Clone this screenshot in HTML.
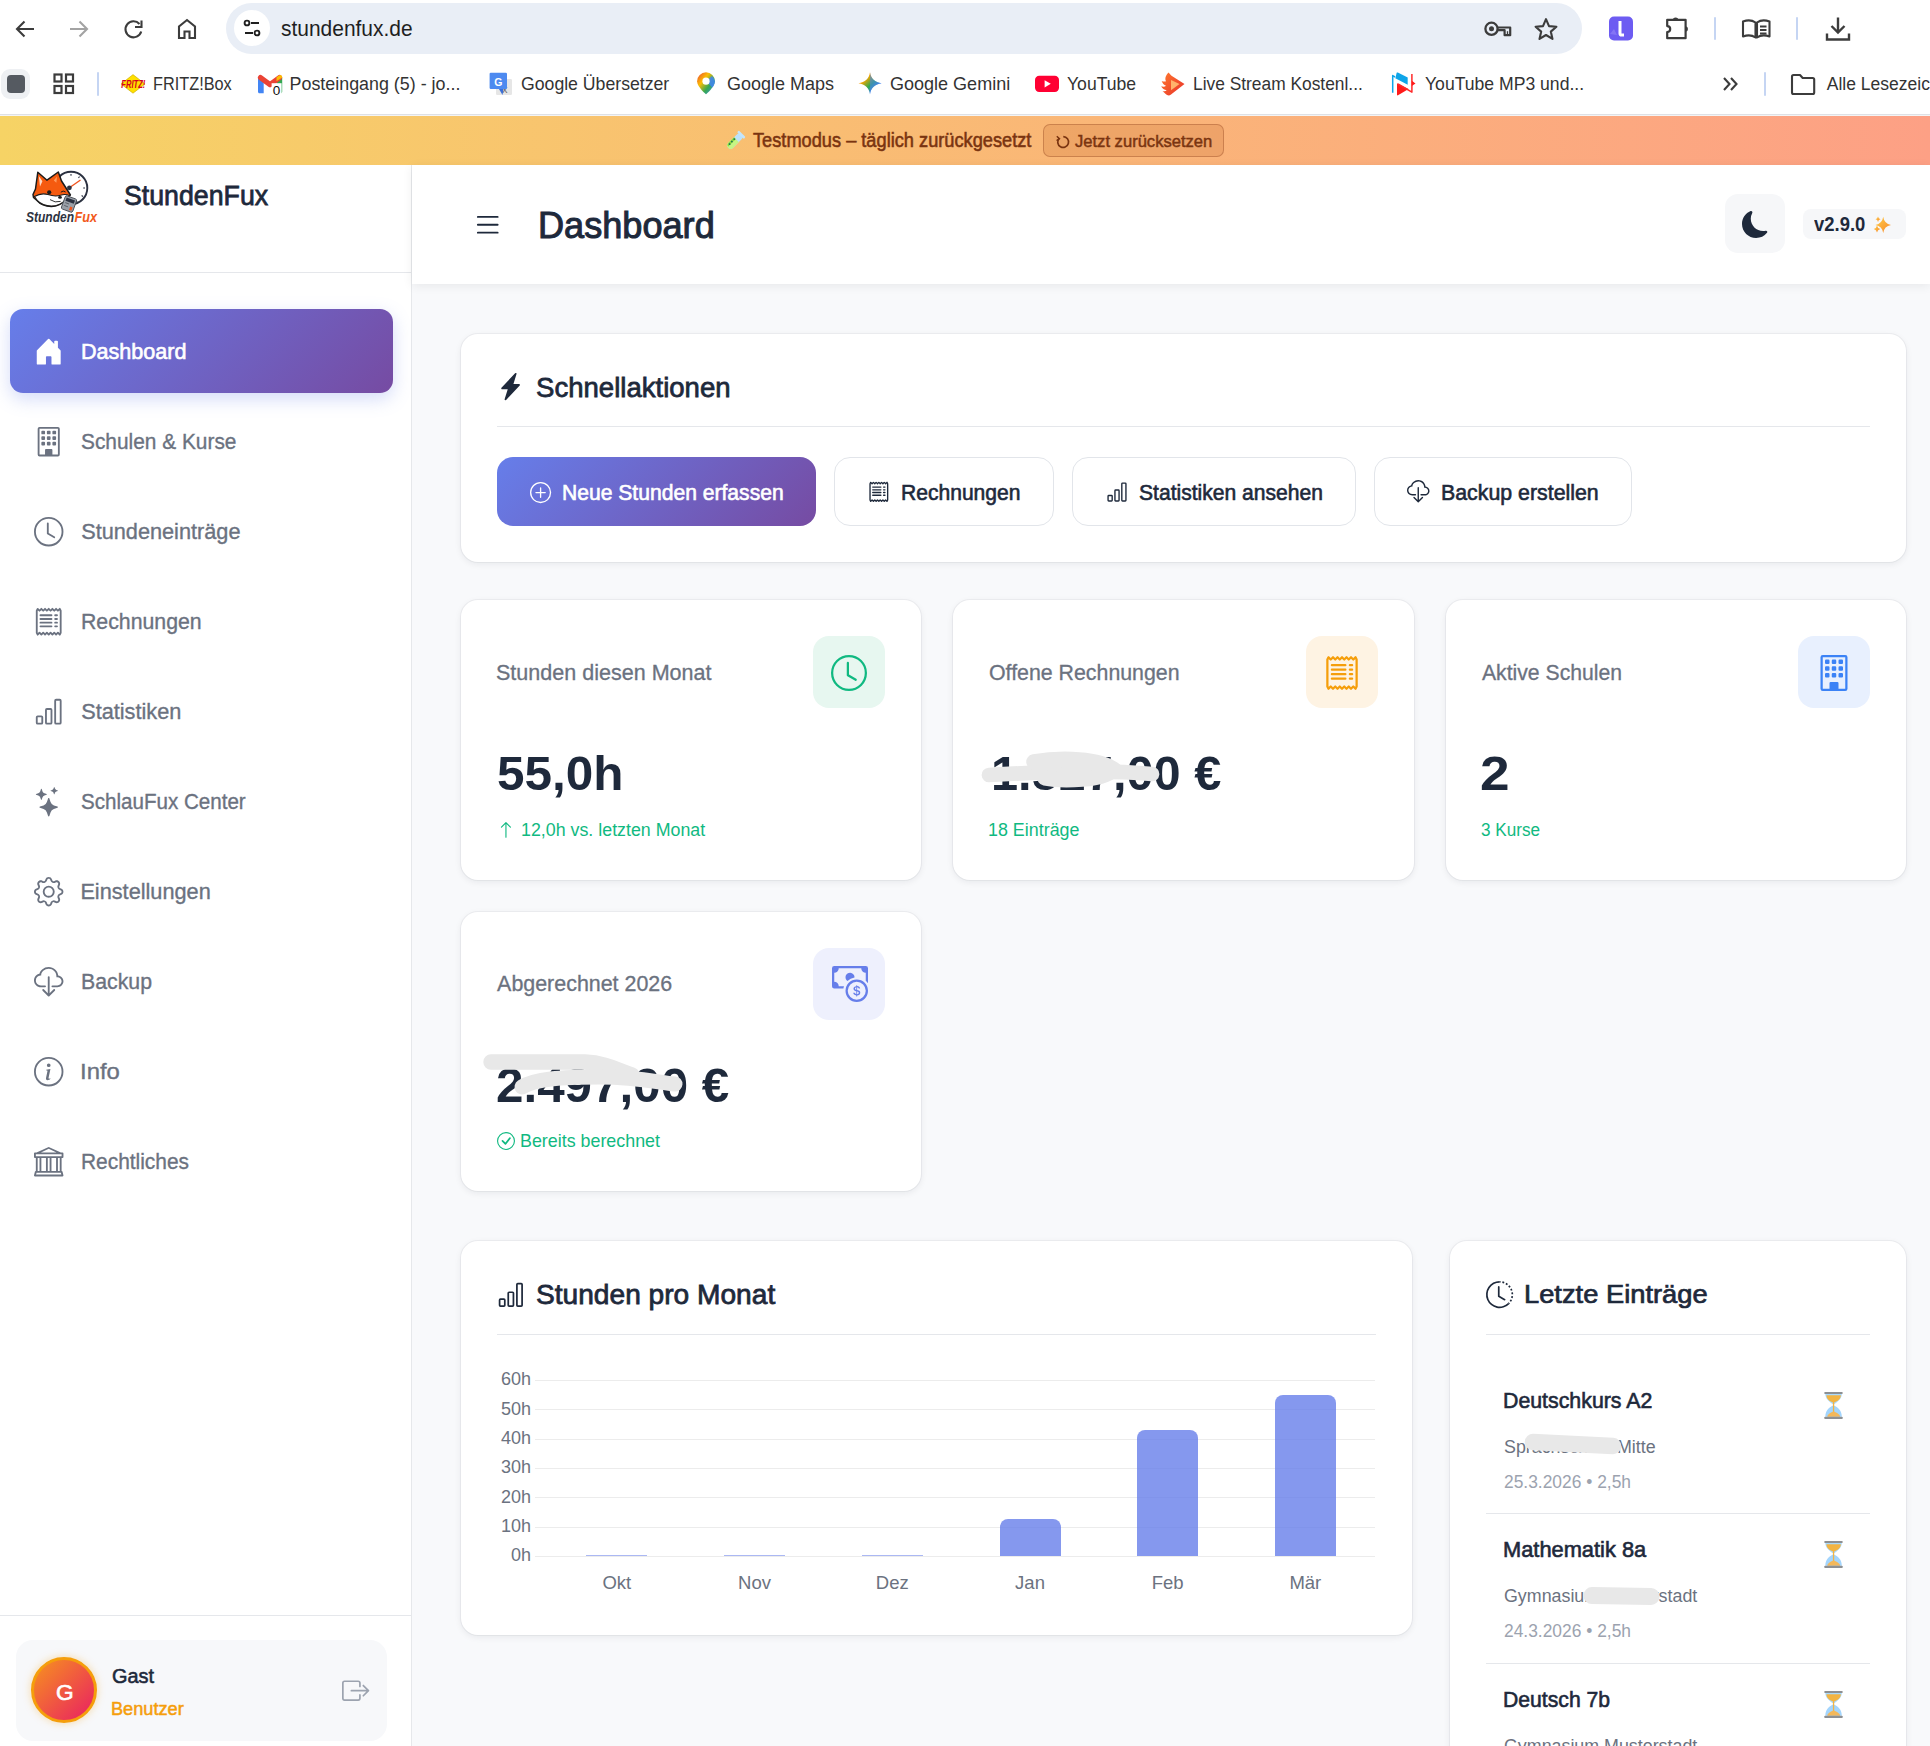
<!DOCTYPE html>
<html><head><meta charset="utf-8"><style>
*{margin:0;padding:0;box-sizing:border-box}
html,body{width:1930px;height:1746px;overflow:hidden;background:#ffffff;font-family:"Liberation Sans",sans-serif}
.a{position:absolute;display:block}
.t{position:absolute;white-space:nowrap;transform-origin:0 0}
svg.a{overflow:visible}
</style></head><body>
<div class="a" style="left:0px;top:0px;width:1930px;height:115px;background:#ffffff;"></div>
<div class="a" style="left:0px;top:114px;width:1930px;height:1px;background:#dfe1e5;"></div>
<svg class="a" style="left:14px;top:18px;" width="24" height="22" viewBox="0 0 24 22"><path d="M20 11H3.5M10.5 3.5L3 11l7.5 7.5" fill="none" stroke="#3c3c3c" stroke-width="2.1"/></svg>
<svg class="a" style="left:68px;top:18px;" width="24" height="22" viewBox="0 0 24 22"><path d="M2 11h16.5M11.5 3.5L19 11l-7.5 7.5" fill="none" stroke="#a3a3a3" stroke-width="2.1"/></svg>
<svg class="a" style="left:122px;top:18px;" width="24" height="22" viewBox="0 0 24 22"><path d="M19.2 13.5A8 8 0 1 1 17.5 6" fill="none" stroke="#3c3c3c" stroke-width="2.1"/><path d="M19.5 2.5v6.5h-6.5" fill="none" stroke="#3c3c3c" stroke-width="2.1"/></svg>
<svg class="a" style="left:176px;top:17px;" width="24" height="24" viewBox="0 0 24 24"><path d="M3 21V9.5L11 3l8 6.5V21h-5.5v-6.5h-5V21z" fill="none" stroke="#3c3c3c" stroke-width="2.1" stroke-linejoin="miter"/></svg>
<div class="a" style="left:226px;top:3px;width:1356px;height:51px;background:#e9eef6;border-radius:26px;"></div>
<div class="a" style="left:234px;top:10px;width:36px;height:36px;background:#ffffff;border-radius:50%;"></div>
<svg class="a" style="left:240px;top:16px;" width="24" height="24" viewBox="0 0 24 24"><circle cx="7" cy="7" r="2.4" fill="none" stroke="#1f1f1f" stroke-width="1.9"/><path d="M11 7h8M5 17h8" stroke="#1f1f1f" stroke-width="1.9"/><circle cx="17" cy="17" r="2.4" fill="none" stroke="#1f1f1f" stroke-width="1.9"/></svg>
<div class="t" style="left:281.4px;top:17.64px;font-size:22.29px;line-height:22.29px;font-weight:400;color:#1f1f1f;transform:scaleX(0.9401);">stundenfux.de</div>
<svg class="a" style="left:1480px;top:16px;" width="36" height="26" viewBox="0 0 36 26"><g transform="translate(-1480,-16)"><circle cx="1491.5" cy="28.8" r="6.1" fill="none" stroke="#3c3c3c" stroke-width="2.3"/><circle cx="1491.5" cy="28.8" r="2.5" fill="#3c3c3c"/><path d="M1497.6 27.5H1510.2V35.2H1504.6V30.2H1497.6" fill="none" stroke="#3c3c3c" stroke-width="2.2" stroke-linejoin="round"/><path d="M1507.5 31.2V34.5" stroke="#3c3c3c" stroke-width="1.3"/></g></svg>
<svg class="a" style="left:1532px;top:16px;" width="28" height="26" viewBox="0 0 28 26"><path d="M14 3.2l3 6.9 7.4.6-5.6 4.9 1.7 7.3L14 19l-6.5 3.9 1.7-7.3-5.6-4.9 7.4-.6z" fill="none" stroke="#3c3c3c" stroke-width="2.1" stroke-linejoin="round"/></svg>
<svg class="a" style="left:1608px;top:16px;" width="26" height="25" viewBox="0 0 26 25"><rect x="1" y="0.5" width="24" height="24" rx="5" fill="#6d5cf2"/><path d="M2 18l4-5 3 6z" fill="#8f7ff7" opacity=".7"/><path d="M12 5v12.5c0 1 .6 1.6 1.6 1.6H16" fill="none" stroke="#fff" stroke-width="3"/></svg>
<svg class="a" style="left:1660px;top:12px;" width="34" height="32" viewBox="0 0 34 32"><g transform="translate(-1660,-12)"><path d="M1667.2 19.8H1685.6V38.2H1667.2V32.1A3 3 0 0 0 1667.2 26.1z" fill="none" stroke="#3c3c3c" stroke-width="2.2" stroke-linejoin="round"/><path d="M1672.8 20.3a2.8 2.8 0 0 1 5.6 0z" fill="#3c3c3c"/><path d="M1685.1 26.2a2.8 2.8 0 0 1 0 5.6z" fill="#3c3c3c"/></g></svg>
<div class="a" style="left:1714px;top:17px;width:2px;height:23px;background:#c5d5f3;border-radius:1px;"></div>
<svg class="a" style="left:1741px;top:17px;" width="32" height="24" viewBox="0 0 32 24"><path d="M2 4.5c4-1.5 9-1.5 12.5 1v15c-3.5-2.5-8.5-2.5-12.5-1zM28.5 4.5c-4-1.5-9-1.5-12.5 1v15c3.5-2.5 8.5-2.5 12.5-1z" fill="none" stroke="#3c3c3c" stroke-width="2.1" stroke-linejoin="round"/><path d="M19 9.5h6.5M19 13h6.5M19 16.5h6.5" stroke="#3c3c3c" stroke-width="1.8"/></svg>
<div class="a" style="left:1796px;top:17px;width:2px;height:23px;background:#c5d5f3;border-radius:1px;"></div>
<svg class="a" style="left:1824px;top:15px;" width="28" height="27" viewBox="0 0 28 27"><path d="M14 2.5v15M7.5 11l6.5 6.5 6.5-6.5M3 18.5v6h22v-6" fill="none" stroke="#3c3c3c" stroke-width="2.4"/></svg>
<div class="a" style="left:1px;top:69px;width:29px;height:30px;background:#eef0f3;border-radius:9px;"></div>
<div class="a" style="left:7px;top:75px;width:18px;height:18px;background:#555a61;border-radius:4px;"></div>
<svg class="a" style="left:52px;top:72px;" width="24" height="24" viewBox="0 0 24 24"><rect x="2.5" y="2.5" width="7" height="7" fill="none" stroke="#3c3c3c" stroke-width="2.2"/><rect x="14" y="2.5" width="7" height="7" fill="none" stroke="#3c3c3c" stroke-width="2.2"/><rect x="2.5" y="14" width="7" height="7" fill="none" stroke="#3c3c3c" stroke-width="2.2"/><rect x="14" y="14" width="7" height="7" fill="none" stroke="#3c3c3c" stroke-width="2.2"/></svg>
<div class="a" style="left:97px;top:72px;width:2px;height:24px;background:#c5d5f3;border-radius:1px;"></div>
<svg class="a" style="left:118px;top:72px;" width="30" height="24" viewBox="0 0 30 24"><g transform="translate(-118,-72)"><path d="M133 74.6L145 84 133 93.2 121 84z" fill="#ffe000" stroke="#c9a600" stroke-width=".6"/><text x="121.3" y="87.8" font-size="10.5" font-weight="700" font-style="italic" font-family="Liberation Sans" fill="#d6001c" textLength="24" lengthAdjust="spacingAndGlyphs">FRITZ!</text></g></svg>
<div class="t" style="left:153.4px;top:75.58px;font-size:17.86px;line-height:17.86px;font-weight:400;color:#333333;transform:scaleX(0.9123);">FRITZ!Box</div>
<svg class="a" style="left:256px;top:72px;" width="28" height="25" viewBox="0 0 28 25"><g transform="translate(-256,-72)"><path d="M258 77.5v14.2c0 .9.6 1.5 1.5 1.5h4.2V81.3z" fill="#4285f4"/><path d="M276.5 81.3v11.9h4.2c.9 0 1.5-.6 1.5-1.5V77.5z" fill="#34a853"/><path d="M260.5 77.6L270 84.7l9.5-7.1" fill="none" stroke="#ea4335" stroke-width="5.2" stroke-linecap="round" stroke-linejoin="round"/><path d="M276.5 81.3l5.7-3.8v-.5a2 2 0 0 0-3.2-1.6l-2.5 1.9z" fill="#fbbc04"/><rect x="271.6" y="83.2" width="10" height="12.5" fill="#fff"/><text x="276.5" y="94.5" font-size="13.5" font-family="Liberation Sans" text-anchor="middle" fill="#111">0</text></g></svg>
<div class="t" style="left:289.6px;top:75.58px;font-size:17.86px;line-height:17.86px;font-weight:400;color:#333333;">Posteingang (5) - jo...</div>
<svg class="a" style="left:487px;top:71px;" width="28" height="27" viewBox="0 0 28 27"><g transform="translate(-487,-71)"><rect x="496" y="79" width="16" height="16" rx="1.2" fill="#e6e6e6"/><text x="504.8" y="92.5" font-size="11" font-family="Liberation Sans" fill="#6b6b6b" text-anchor="middle">x</text><rect x="489.6" y="72.7" width="17.4" height="16.3" rx="1.2" fill="#4d8af0"/><path d="M499 89l3.5 6 1-6z" fill="#3a6fd8"/><text x="498.3" y="85.5" font-size="10.5" font-weight="700" font-family="Liberation Sans" fill="#fff" text-anchor="middle">G</text></g></svg>
<div class="t" style="left:521.1px;top:75.58px;font-size:17.86px;line-height:17.86px;font-weight:400;color:#333333;transform:scaleX(0.9888);">Google Übersetzer</div>
<svg class="a" style="left:695px;top:71px;" width="22" height="25" viewBox="0 0 22 25"><defs><linearGradient id="mp1" x1="0" y1="0" x2="1" y2="1"><stop offset="0" stop-color="#ea4335"/><stop offset=".35" stop-color="#fbbc04"/><stop offset=".65" stop-color="#34a853"/><stop offset="1" stop-color="#4285f4"/></linearGradient></defs><g transform="translate(-695,-71)"><path d="M706 72.3a8.9 8.9 0 0 0-8.9 8.9c0 5.6 8.9 13.1 8.9 13.1s8.9-7.5 8.9-13.1a8.9 8.9 0 0 0-8.9-8.9z" fill="url(#mp1)"/><path d="M712 76a8.9 8.9 0 0 1 2.9 5.2c0 2-1 4.2-2.5 6.3L706 81.5z" fill="#4285f4" opacity=".85"/><circle cx="706" cy="81.2" r="3.6" fill="#fff"/></g></svg>
<div class="t" style="left:726.6px;top:75.58px;font-size:17.86px;line-height:17.86px;font-weight:400;color:#333333;transform:scaleX(1.0073);">Google Maps</div>
<svg class="a" style="left:857px;top:71px;" width="26" height="25" viewBox="0 0 26 25"><defs><linearGradient id="gm1" x1="0" y1="0" x2="1" y2="1"><stop offset="0" stop-color="#f24336"/><stop offset=".3" stop-color="#f6a400"/><stop offset=".55" stop-color="#2fa84f"/><stop offset=".75" stop-color="#3f7ef8"/><stop offset="1" stop-color="#3f7ef8"/></linearGradient></defs><g transform="translate(-857,-71)"><path d="M870 72.3C870.8 78.5 875 82.5 881.6 83.3 875 84.1 870.8 88.1 870 94.3 869.2 88.1 865 84.1 858.5 83.3 865 82.5 869.2 78.5 870 72.3z" fill="url(#gm1)"/><path d="M870 72.3C870.8 78.5 875 82.5 881.6 83.3 875 84.1 870.8 88.1 870 94.3z" fill="#4a83f5" opacity=".55"/></g></svg>
<div class="t" style="left:889.7px;top:75.58px;font-size:17.86px;line-height:17.86px;font-weight:400;color:#333333;transform:scaleX(1.0089);">Google Gemini</div>
<svg class="a" style="left:1033px;top:74px;" width="28" height="20" viewBox="0 0 28 20"><rect x="2" y="1.7" width="24" height="16.2" rx="4.2" fill="#ff0033"/><path d="M11.6 6.2v7.2l6.2-3.6z" fill="#fff"/></svg>
<div class="t" style="left:1067.4px;top:75.58px;font-size:17.86px;line-height:17.86px;font-weight:400;color:#333333;transform:scaleX(0.9851);">YouTube</div>
<svg class="a" style="left:1159px;top:70px;" width="28" height="28" viewBox="0 0 28 28"><defs><linearGradient id="ls1" x1="0" y1="0" x2="1" y2="1"><stop offset="0" stop-color="#ff7a2f"/><stop offset="1" stop-color="#e8302a"/></linearGradient></defs><path d="M9.5 2.5l3 3.3 13 8.3-13.5 10.5c-2 1.8-4 .8-5.3-.5L3.5 21c1.8.5 3.2.2 4.2-.8-2.4-.3-4.6-1.6-5.5-4 2 .8 3.8.5 4.8-.5C5 15 3.3 13.3 2.7 11c1.6.7 3 .8 4.3.2C5.8 9 6.2 6 9.5 2.5z" fill="url(#ls1)"/><path d="M12 10l8.5 4.1-8.5 6.2z" fill="#ffb36b"/></svg>
<div class="t" style="left:1192.6px;top:75.58px;font-size:17.86px;line-height:17.86px;font-weight:400;color:#333333;transform:scaleX(0.9720);">Live Stream Kostenl...</div>
<svg class="a" style="left:1388px;top:70px;" width="30" height="28" viewBox="0 0 30 28"><g transform="translate(-1388,-70)"><path d="M1392.7 92.7V75.6l2.3 1.4" stroke="#0ea5e9" stroke-width="1.5" fill="none" stroke-linejoin="round"/><path d="M1396.6 72.9c.3-.5.8-.6 1.2-.4l9.9 5.1v7.2L1395.3 78.3z" fill="#0ea5e9"/><path d="M1397 83.3v11.4c0 .6.5.8 1 .6l10.6-6.4z" fill="#ff1a1a"/><path d="M1398 84l13.9 8.1V74" stroke="#ff2b2b" stroke-width="1.5" fill="none" stroke-linejoin="round"/><path d="M1411.8 80.8l3.7 2.6-3.7 2.6z" fill="#ff1a1a"/></g></svg>
<div class="t" style="left:1424.6px;top:75.58px;font-size:17.86px;line-height:17.86px;font-weight:400;color:#333333;transform:scaleX(0.9851);">YouTube MP3 und...</div>
<svg class="a" style="left:1721px;top:76px;" width="20" height="16" viewBox="0 0 20 16"><path d="M3 2l5.5 6L3 14M10 2l5.5 6L10 14" fill="none" stroke="#3c3c3c" stroke-width="2.1"/></svg>
<div class="a" style="left:1764px;top:72px;width:2px;height:24px;background:#c5d5f3;border-radius:1px;"></div>
<svg class="a" style="left:1789px;top:72px;" width="28" height="24" viewBox="0 0 28 24"><path d="M3 4.5c0-1 .6-1.5 1.5-1.5h6.5l2.7 3h10c1 0 1.5.5 1.5 1.5v13c0 1-.5 1.5-1.5 1.5H4.5c-1 0-1.5-.5-1.5-1.5z" fill="none" stroke="#3c3c3c" stroke-width="2.1" stroke-linejoin="round"/></svg>
<div class="t" style="left:1826.8px;top:75.89px;font-size:17.50px;line-height:17.50px;font-weight:400;color:#333333;">Alle Lesezeichen</div>
<div class="a" style="left:0px;top:116px;width:1930px;height:49px;background:linear-gradient(90deg,#f6d365 0%,#fda085 100%);"></div>
<div class="a" style="left:0px;top:115px;width:1930px;height:1px;background:#f3f4f6;"></div>
<svg class="a" style="left:722.5px;top:128.5px;" width="24" height="24" viewBox="0 0 24 24"><g transform="rotate(45 12 12)"><rect x="8.6" y="3" width="6.8" height="18.5" rx="3.4" fill="#bde2fb"/><rect x="7.2" y="1.8" width="9.6" height="2.6" rx="1.2" fill="#c4e6fc"/><path d="M8.6 10h6.8v8.1a3.4 3.4 0 0 1-6.8 0z" fill="#c6f584"/><path d="M8.6 10h2.6v11.1a3.4 3.4 0 0 1-2.6-3.3z" fill="#8fdc3e"/><circle cx="10.2" cy="11.2" r=".95" fill="#1d7456"/><circle cx="10.2" cy="14.6" r=".95" fill="#1d7456"/><circle cx="10.4" cy="18" r=".95" fill="#1d7456"/></g></svg>
<div class="t" style="left:752.5px;top:131.33px;font-size:19.57px;line-height:19.57px;font-weight:400;color:#7a3410;transform:scaleX(0.9310);-webkit-text-stroke:0.55px #7a3410;">Testmodus – täglich zurückgesetzt</div>
<div class="a" style="left:1043px;top:124px;width:181px;height:33px;background:rgba(185,95,35,0.19);border:1px solid rgba(124,45,18,0.3);border-radius:7px;box-sizing:border-box;"></div>
<svg class="a" style="left:1055px;top:134px;" width="16" height="16" viewBox="0 0 16 16"><path d="M4.2 4.3A5.4 5.4 0 1 0 8.3 2.6" fill="none" stroke="#7a3410" stroke-width="1.7"/><path d="M1.8 2.2L4.4 4.6 1.6 6.6" fill="none" stroke="#7a3410" stroke-width="1.5"/></svg>
<div class="t" style="left:1075.0px;top:134.43px;font-size:16.86px;line-height:16.86px;font-weight:400;color:#7a3410;transform:scaleX(0.9834);-webkit-text-stroke:0.47px #7a3410;">Jetzt zurücksetzen</div>
<div class="a" style="left:0px;top:165px;width:411px;height:1581px;background:#ffffff;"></div>
<div class="a" style="left:411px;top:165px;width:1px;height:1581px;background:#e6e8eb;"></div>
<div class="a" style="left:0px;top:272px;width:411px;height:1px;background:#e5e7eb;"></div>
<svg class="a" style="left:20px;top:165px" width="80" height="62" viewBox="20 165 80 62"><circle cx="71" cy="188" r="16.3" fill="#fff" stroke="#2b3140" stroke-width="1.9"/><path d="M71 174v1.8M79.5 176.5l-1 1.5M85 188h-1.8M83 196.5l-1.4-1M77 202l-.8-1.4" stroke="#2b3140" stroke-width="1.1"/><path d="M69.4 187.8L80.5 180" stroke="#f0541e" stroke-width="1.4"/><circle cx="69.4" cy="187.8" r="2.4" fill="#2b3140"/><path d="M33 194.5L35.5 189 37.8 172.3 47 180.2 58.3 172 61.5 181 67.3 190 70.4 195 66.5 199Q60 206.5 51.3 206.5 42 206.3 37 200.5L33.5 197.5z" fill="#f55a0f" stroke="#1b1b1b" stroke-width="1.5" stroke-linejoin="round"/><path d="M34.5 196.5Q41 192.5 48 194.5 55 197 60.5 195.2 65.5 193.5 69.2 195.6L66.3 199Q60 206 51.3 206 42.5 205.8 37.2 200.3z" fill="#fff" stroke="#1b1b1b" stroke-width="1.1" stroke-linejoin="round"/><path d="M38.8 176l3.6 5.2-2.4 5.3z" fill="#ffd9c2"/><path d="M57 176.5l-3.2 4 2.6 2.2z" fill="#ff9a5c"/><circle cx="49.2" cy="192.3" r="2.1" fill="#1b1b1b"/><path d="M60.8 192.2Q63.2 190 65.6 192" fill="none" stroke="#1b1b1b" stroke-width="1"/><ellipse cx="60" cy="197.4" rx="1.9" ry="1.3" fill="#1b1b1b"/><path d="M50 199.6Q55 203.2 60.6 201.4" fill="none" stroke="#1b1b1b" stroke-width=".9"/><g transform="rotate(20 69 204)"><rect x="63" y="197" width="12" height="14" rx="1.6" fill="#9aa0a8" stroke="#4a4f57" stroke-width=".9"/><rect x="64.6" y="198.6" width="8.8" height="3.6" fill="#2b3140"/><rect x="71" y="206" width="2.6" height="3.6" fill="#f0541e"/><path d="M65 204h4M65 207h4" stroke="#5c6169" stroke-width=".9"/></g><text x="26" y="221.5" font-family="Liberation Sans" font-weight="700" font-style="italic" font-size="15.5" fill="#2d3342" textLength="48" lengthAdjust="spacingAndGlyphs">Stunden</text><text x="74.6" y="221.5" font-family="Liberation Sans" font-weight="700" font-style="italic" font-size="15.5" fill="#f25a1c" textLength="22.5" lengthAdjust="spacingAndGlyphs">Fux</text></svg>
<div class="t" style="left:123.7px;top:181.78px;font-size:27.43px;line-height:27.43px;font-weight:400;color:#1e293b;transform:scaleX(0.9745);-webkit-text-stroke:0.77px #1e293b;">StundenFux</div>
<div class="a" style="left:10px;top:309px;width:383px;height:84px;background:linear-gradient(135deg,#667eea 0%,#764ba2 100%);border-radius:13px;box-shadow:0 6px 18px rgba(102,126,234,0.28);"></div>
<svg class="a" style="left:34.20px;top:337.00px;" width="29.44" height="29.44" viewBox="0 0 16 16" fill="#ffffff"><path d="M6.5 14.5v-3.505c0-.245.25-.495.5-.495h2c.25 0 .5.25.5.5v3.5a.5.5 0 0 0 .5.5h4a.5.5 0 0 0 .5-.5v-7a.5.5 0 0 0-.146-.354L13 5.793V2.5a.5.5 0 0 0-.5-.5h-1a.5.5 0 0 0-.5.5v1.293L8.354 1.146a.5.5 0 0 0-.708 0l-6 6A.5.5 0 0 0 1.5 7.5v7a.5.5 0 0 0 .5.5h4a.5.5 0 0 0 .5-.5z"/></svg>
<div class="t" style="left:80.6px;top:341.12px;font-size:21.71px;line-height:21.71px;font-weight:400;color:#ffffff;transform:scaleX(0.9937);-webkit-text-stroke:0.61px #ffffff;">Dashboard</div>
<div class="t" style="left:81.2px;top:431.42px;font-size:21.71px;line-height:21.71px;font-weight:400;color:#6b7280;transform:scaleX(0.9614);-webkit-text-stroke:0.35px #6b7280;">Schulen & Kurse</div>
<div class="t" style="left:81.2px;top:521.42px;font-size:21.71px;line-height:21.71px;font-weight:400;color:#6b7280;-webkit-text-stroke:0.35px #6b7280;">Stundeneinträge</div>
<div class="t" style="left:80.5px;top:611.42px;font-size:21.71px;line-height:21.71px;font-weight:400;color:#6b7280;transform:scaleX(0.9807);-webkit-text-stroke:0.35px #6b7280;">Rechnungen</div>
<div class="t" style="left:81.2px;top:701.42px;font-size:21.71px;line-height:21.71px;font-weight:400;color:#6b7280;-webkit-text-stroke:0.35px #6b7280;">Statistiken</div>
<div class="t" style="left:81.2px;top:791.42px;font-size:21.71px;line-height:21.71px;font-weight:400;color:#6b7280;transform:scaleX(0.9480);-webkit-text-stroke:0.35px #6b7280;">SchlauFux Center</div>
<div class="t" style="left:80.4px;top:881.42px;font-size:21.71px;line-height:21.71px;font-weight:400;color:#6b7280;-webkit-text-stroke:0.35px #6b7280;">Einstellungen</div>
<div class="t" style="left:80.5px;top:971.42px;font-size:21.71px;line-height:21.71px;font-weight:400;color:#6b7280;transform:scaleX(0.9805);-webkit-text-stroke:0.35px #6b7280;">Backup</div>
<div class="t" style="left:80.0px;top:1061.42px;font-size:21.71px;line-height:21.71px;font-weight:400;color:#6b7280;transform:scaleX(1.0996);-webkit-text-stroke:0.35px #6b7280;">Info</div>
<div class="t" style="left:80.5px;top:1151.42px;font-size:21.71px;line-height:21.71px;font-weight:400;color:#6b7280;transform:scaleX(0.9625);-webkit-text-stroke:0.35px #6b7280;">Rechtliches</div>
<svg class="a" style="left:34.20px;top:427.28px;" width="29.44" height="29.44" viewBox="0 0 16 16" fill="#6b7280"><path d="M4 2.5a.5.5 0 0 1 .5-.5h1a.5.5 0 0 1 .5.5v1a.5.5 0 0 1-.5.5h-1a.5.5 0 0 1-.5-.5v-1Zm3 0a.5.5 0 0 1 .5-.5h1a.5.5 0 0 1 .5.5v1a.5.5 0 0 1-.5.5h-1a.5.5 0 0 1-.5-.5v-1Zm3.5-.5a.5.5 0 0 0-.5.5v1a.5.5 0 0 0 .5.5h1a.5.5 0 0 0 .5-.5v-1a.5.5 0 0 0-.5-.5h-1ZM4 5.5a.5.5 0 0 1 .5-.5h1a.5.5 0 0 1 .5.5v1a.5.5 0 0 1-.5.5h-1a.5.5 0 0 1-.5-.5v-1ZM7.5 5a.5.5 0 0 0-.5.5v1a.5.5 0 0 0 .5.5h1a.5.5 0 0 0 .5-.5v-1a.5.5 0 0 0-.5-.5h-1Zm2.5.5a.5.5 0 0 1 .5-.5h1a.5.5 0 0 1 .5.5v1a.5.5 0 0 1-.5.5h-1a.5.5 0 0 1-.5-.5v-1ZM4.5 8a.5.5 0 0 0-.5.5v1a.5.5 0 0 0 .5.5h1a.5.5 0 0 0 .5-.5v-1a.5.5 0 0 0-.5-.5h-1Zm2.5.5a.5.5 0 0 1 .5-.5h1a.5.5 0 0 1 .5.5v1a.5.5 0 0 1-.5.5h-1a.5.5 0 0 1-.5-.5v-1Zm3.5-.5a.5.5 0 0 0-.5.5v1a.5.5 0 0 0 .5.5h1a.5.5 0 0 0 .5-.5v-1a.5.5 0 0 0-.5-.5h-1Z"/><path d="M2 1a1 1 0 0 1 1-1h10a1 1 0 0 1 1 1v14a1 1 0 0 1-1 1H3a1 1 0 0 1-1-1V1Zm11 0H3v14h3v-2.5a.5.5 0 0 1 .5-.5h3a.5.5 0 0 1 .5.5V15h3V1Z"/></svg>
<svg class="a" style="left:34.20px;top:517.28px;" width="29.44" height="29.44" viewBox="0 0 16 16" fill="#6b7280"><path d="M8 3.5a.5.5 0 0 0-1 0V9a.5.5 0 0 0 .252.434l3.5 2a.5.5 0 0 0 .496-.868L8 8.71V3.5z"/><path d="M8 16A8 8 0 1 0 8 0a8 8 0 0 0 0 16zm7-8A7 7 0 1 1 1 8a7 7 0 0 1 14 0z"/></svg>
<svg class="a" style="left:34.20px;top:607.28px;" width="29.44" height="29.44" viewBox="0 0 16 16" fill="#6b7280"><path d="M1.92.506a.5.5 0 0 1 .434.14L3 1.293l.646-.647a.5.5 0 0 1 .708 0L5 1.293l.646-.647a.5.5 0 0 1 .708 0L7 1.293l.646-.647a.5.5 0 0 1 .708 0L9 1.293l.646-.647a.5.5 0 0 1 .708 0L11 1.293l.646-.647a.5.5 0 0 1 .708 0L13 1.293l.646-.647a.5.5 0 0 1 .801.13l.5 1A.5.5 0 0 1 15 2v12a.5.5 0 0 1-.053.224l-.5 1a.5.5 0 0 1-.8.13L13 14.707l-.646.647a.5.5 0 0 1-.708 0L11 14.707l-.646.647a.5.5 0 0 1-.708 0L9 14.707l-.646.647a.5.5 0 0 1-.708 0L7 14.707l-.646.647a.5.5 0 0 1-.708 0L5 14.707l-.646.647a.5.5 0 0 1-.708 0L3 14.707l-.646.647a.5.5 0 0 1-.801-.13l-.5-1A.5.5 0 0 1 1 14V2a.5.5 0 0 1 .053-.224l.5-1a.5.5 0 0 1 .367-.27zm.217 1.338L2 2.118v11.764l.137.274.51-.51a.5.5 0 0 1 .707 0l.646.647.646-.646a.5.5 0 0 1 .708 0l.646.646.646-.646a.5.5 0 0 1 .708 0l.646.646.646-.646a.5.5 0 0 1 .708 0l.646.646.646-.646a.5.5 0 0 1 .708 0l.646.646.646-.646a.5.5 0 0 1 .708 0l.509.509.137-.274V2.118l-.137-.274-.51.51a.5.5 0 0 1-.707 0L12 1.707l-.646.647a.5.5 0 0 1-.708 0L10 1.707l-.646.647a.5.5 0 0 1-.708 0L8 1.707l-.646.647a.5.5 0 0 1-.708 0L6 1.707l-.646.647a.5.5 0 0 1-.708 0L4 1.707l-.646.647a.5.5 0 0 1-.708 0l-.509-.51z"/><path d="M3 4.5a.5.5 0 0 1 .5-.5h6a.5.5 0 1 1 0 1h-6a.5.5 0 0 1-.5-.5zm0 2a.5.5 0 0 1 .5-.5h6a.5.5 0 1 1 0 1h-6a.5.5 0 0 1-.5-.5zm0 2a.5.5 0 0 1 .5-.5h6a.5.5 0 1 1 0 1h-6a.5.5 0 0 1-.5-.5zm0 2a.5.5 0 0 1 .5-.5h6a.5.5 0 0 1 0 1h-6a.5.5 0 0 1-.5-.5zm8-6a.5.5 0 0 1 .5-.5h1a.5.5 0 0 1 0 1h-1a.5.5 0 0 1-.5-.5zm0 2a.5.5 0 0 1 .5-.5h1a.5.5 0 0 1 0 1h-1a.5.5 0 0 1-.5-.5zm0 2a.5.5 0 0 1 .5-.5h1a.5.5 0 0 1 0 1h-1a.5.5 0 0 1-.5-.5zm0 2a.5.5 0 0 1 .5-.5h1a.5.5 0 0 1 0 1h-1a.5.5 0 0 1-.5-.5z"/></svg>
<svg class="a" style="left:34.20px;top:697.28px;" width="29.44" height="29.44" viewBox="0 0 16 16" fill="#6b7280"><path d="M4 11H2v3h2v-3zm5-4H7v7h2V7zm5-5v12h-2V2h2zm-2-1a1 1 0 0 0-1 1v12a1 1 0 0 0 1 1h2a1 1 0 0 0 1-1V2a1 1 0 0 0-1-1h-2zM6 7a1 1 0 0 1 1-1h2a1 1 0 0 1 1 1v7a1 1 0 0 1-1 1H7a1 1 0 0 1-1-1V7zm-5 4a1 1 0 0 1 1-1h2a1 1 0 0 1 1 1v3a1 1 0 0 1-1 1H2a1 1 0 0 1-1-1v-3z"/></svg>
<svg class="a" style="left:34.20px;top:787.28px;" width="29.44" height="29.44" viewBox="0 0 16 16" fill="#6b7280"><path d="M7.657 6.247c.11-.33.576-.33.686 0l.645 1.937a2.89 2.89 0 0 0 1.829 1.828l1.936.645c.33.11.33.576 0 .686l-1.937.645a2.89 2.89 0 0 0-1.828 1.829l-.645 1.936a.361.361 0 0 1-.686 0l-.645-1.937a2.89 2.89 0 0 0-1.828-1.828l-1.937-.645a.361.361 0 0 1 0-.686l1.937-.645a2.89 2.89 0 0 0 1.828-1.828l.645-1.937zM3.794 1.148a.217.217 0 0 1 .412 0l.387 1.162c.173.518.579.924 1.097 1.097l1.162.387a.217.217 0 0 1 0 .412l-1.162.387A1.734 1.734 0 0 0 4.593 5.69l-.387 1.162a.217.217 0 0 1-.412 0L3.407 5.69A1.734 1.734 0 0 0 2.31 4.593l-1.162-.387a.217.217 0 0 1 0-.412l1.162-.387A1.734 1.734 0 0 0 3.407 2.31l.387-1.162zM10.863.099a.145.145 0 0 1 .274 0l.258.774c.115.346.386.617.732.732l.774.258a.145.145 0 0 1 0 .274l-.774.258a1.156 1.156 0 0 0-.732.732l-.258.774a.145.145 0 0 1-.274 0l-.258-.774a1.156 1.156 0 0 0-.732-.732L9.1 2.137a.145.145 0 0 1 0-.274l.774-.258c.346-.115.617-.386.732-.732L10.863.1z"/></svg>
<svg class="a" style="left:34.20px;top:877.28px;" width="29.44" height="29.44" viewBox="0 0 16 16" fill="#6b7280"><path d="M8 4.754a3.246 3.246 0 1 0 0 6.492 3.246 3.246 0 0 0 0-6.492zM5.754 8a2.246 2.246 0 1 1 4.492 0 2.246 2.246 0 0 1-4.492 0z"/><path d="M9.796 1.343c-.527-1.79-3.065-1.79-3.592 0l-.094.319a.873.873 0 0 1-1.255.52l-.292-.16c-1.64-.892-3.433.902-2.54 2.541l.159.292a.873.873 0 0 1-.52 1.255l-.319.094c-1.79.527-1.79 3.065 0 3.592l.319.094a.873.873 0 0 1 .52 1.255l-.16.292c-.892 1.64.901 3.434 2.541 2.54l.292-.159a.873.873 0 0 1 1.255.52l.094.319c.527 1.79 3.065 1.79 3.592 0l.094-.319a.873.873 0 0 1 1.255-.52l.292.16c1.64.893 3.434-.902 2.54-2.541l-.159-.292a.873.873 0 0 1 .52-1.255l.319-.094c1.79-.527 1.79-3.065 0-3.592l-.319-.094a.873.873 0 0 1-.52-1.255l.16-.292c.893-1.64-.902-3.433-2.541-2.54l-.292.159a.873.873 0 0 1-1.255-.52l-.094-.319zm-2.633.283c.246-.835 1.428-.835 1.674 0l.094.319a1.873 1.873 0 0 0 2.693 1.115l.291-.16c.764-.415 1.6.42 1.184 1.185l-.159.292a1.873 1.873 0 0 0 1.116 2.692l.318.094c.835.246.835 1.428 0 1.674l-.319.094a1.873 1.873 0 0 0-1.115 2.693l.16.291c.415.764-.42 1.6-1.185 1.184l-.291-.159a1.873 1.873 0 0 0-2.693 1.116l-.094.318c-.246.835-1.428.835-1.674 0l-.094-.319a1.873 1.873 0 0 0-2.692-1.115l-.292.16c-.764.415-1.6-.42-1.184-1.185l.159-.291A1.873 1.873 0 0 0 1.945 8.93l-.319-.094c-.835-.246-.835-1.428 0-1.674l.319-.094A1.873 1.873 0 0 0 3.06 4.377l-.16-.292c-.415-.764.42-1.6 1.185-1.184l.292.159a1.873 1.873 0 0 0 2.692-1.115l.094-.319z"/></svg>
<svg class="a" style="left:34.20px;top:967.28px;" width="29.44" height="29.44" viewBox="0 0 16 16" fill="#6b7280"><path d="M4.406 1.342A5.53 5.53 0 0 1 8 0c2.69 0 4.923 2 5.166 4.579C14.758 4.804 16 6.137 16 7.773 16 9.569 14.502 11 12.687 11H10a.5.5 0 0 1 0-1h2.688C13.979 10 15 8.988 15 7.773c0-1.216-1.02-2.228-2.313-2.228h-.5v-.5C12.188 2.825 10.328 1 8 1a4.53 4.53 0 0 0-2.941 1.1c-.757.652-1.153 1.438-1.153 2.055v.448l-.445.049C2.064 4.805 1 5.952 1 7.318 1 8.785 2.230 10 3.781 10H6a.5.5 0 0 1 0 1H3.781C1.708 11 0 9.366 0 7.318c0-1.763 1.266-3.223 2.942-3.593.143-.863.698-1.723 1.464-2.383z"/><path d="M7.646 15.854a.5.5 0 0 0 .708 0l3-3a.5.5 0 0 0-.708-.708L8.5 14.293V5.5a.5.5 0 0 0-1 0v8.793l-2.146-2.147a.5.5 0 0 0-.708.708l3 3z"/></svg>
<svg class="a" style="left:34.20px;top:1057.28px;" width="29.44" height="29.44" viewBox="0 0 16 16" fill="#6b7280"><path d="M8 15A7 7 0 1 1 8 1a7 7 0 0 1 0 14zm0 1A8 8 0 1 0 8 0a8 8 0 0 0 0 16z"/><path d="m8.93 6.588-2.29.287-.082.38.45.083c.294.07.352.176.288.469l-.738 3.468c-.194.897.105 1.319.808 1.319.545 0 1.178-.252 1.465-.598l.088-.416c-.2.176-.492.246-.686.246-.275 0-.375-.193-.304-.533L8.93 6.588zM9 4.5a1 1 0 1 1-2 0 1 1 0 0 1 2 0z"/></svg>
<svg class="a" style="left:34.20px;top:1147.28px;" width="29.44" height="29.44" viewBox="0 0 16 16" fill="#6b7280"><path d="m8 0 6.61 3h.89a.5.5 0 0 1 .5.5v2a.5.5 0 0 1-.5.5H15v7a.5.5 0 0 1 .485.38l.5 2a.498.498 0 0 1-.485.62H.5a.498.498 0 0 1-.485-.62l.5-2A.501.501 0 0 1 1 13V6H.5a.5.5 0 0 1-.5-.5v-2A.5.5 0 0 1 .5 3h.89L8 0zM3.777 3h8.447L8 1 3.777 3zM2 6v7h1V6H2zm2 0v7h2.5V6H4zm3.5 0v7h1V6h-1zm2 0v7H12V6H9.5zM13 6v7h1V6h-1zm2-1V4H1v1h14zm-.39 9H1.39l-.25 1h13.72l-.25-1z"/></svg>
<div class="a" style="left:0px;top:1615px;width:411px;height:1px;background:#e5e7eb;"></div>
<div class="a" style="left:16px;top:1640px;width:371px;height:101px;background:#f7f8fa;border-radius:17px;"></div>
<div class="a" style="left:31px;top:1657px;width:66px;height:66px;background:linear-gradient(135deg,#f7931e 0%,#e91e63 100%);border-radius:50%;border:3px solid #f59e0b;box-sizing:border-box;box-shadow:0 0 8px rgba(245,158,11,0.35);"></div>
<div class="t" style="left:55.5px;top:1681.05px;font-size:22.86px;line-height:22.86px;font-weight:400;color:#ffffff;transform:scaleX(0.9926);-webkit-text-stroke:0.64px #ffffff;">G</div>
<div class="t" style="left:111.8px;top:1666.73px;font-size:19.57px;line-height:19.57px;font-weight:400;color:#1e293b;transform:scaleX(1.0182);-webkit-text-stroke:0.55px #1e293b;">Gast</div>
<div class="t" style="left:111.3px;top:1700.12px;font-size:18.29px;line-height:18.29px;font-weight:400;color:#f59e0b;transform:scaleX(0.9942);-webkit-text-stroke:0.51px #f59e0b;">Benutzer</div>
<svg class="a" style="left:341.70px;top:1676.60px;" width="27.30" height="27.30" viewBox="0 0 16 16" fill="#9ca3af"><path d="M10 12.5a.5.5 0 0 1-.5.5h-8a.5.5 0 0 1-.5-.5v-9a.5.5 0 0 1 .5-.5h8a.5.5 0 0 1 .5.5v2a.5.5 0 0 0 1 0v-2A1.5 1.5 0 0 0 9.5 2h-8A1.5 1.5 0 0 0 0 3.5v9A1.5 1.5 0 0 0 1.5 14h8a1.5 1.5 0 0 0 1.5-1.5v-2a.5.5 0 0 0-1 0v2z"/><path d="M15.854 8.354a.5.5 0 0 0 0-.708l-3-3a.5.5 0 0 0-.708.708L14.293 7.5H5.5a.5.5 0 0 0 0 1h8.793l-2.147 2.146a.5.5 0 0 0 .708.708l3-3z"/></svg>
<div class="a" style="left:412px;top:284px;width:1518px;height:1462px;background:#f8f9fb;"></div>
<div class="a" style="left:412px;top:165px;width:1518px;height:119px;background:#ffffff;box-shadow:0 2px 10px rgba(0,0,0,0.07);z-index:1;"></div>
<div class="a" style="left:412px;top:165px;width:1518px;height:119px;z-index:2;">
</div>
<svg class="a" style="left:472.00px;top:209.20px;z-index:3;" width="31.50" height="31.50" viewBox="0 0 16 16" fill="#1e293b"><path d="M2.5 12a.5.5 0 0 1 .5-.5h10a.5.5 0 0 1 0 1H3a.5.5 0 0 1-.5-.5zm0-4a.5.5 0 0 1 .5-.5h10a.5.5 0 0 1 0 1H3a.5.5 0 0 1-.5-.5zm0-4a.5.5 0 0 1 .5-.5h10a.5.5 0 0 1 0 1H3a.5.5 0 0 1-.5-.5z"/></svg>
<div class="t" style="left:538.1px;top:207.14px;font-size:37.29px;line-height:37.29px;font-weight:400;color:#1e293b;transform:scaleX(0.9691);-webkit-text-stroke:1.04px #1e293b;z-index:3;">Dashboard</div>
<div class="a" style="left:1725px;top:194px;width:60px;height:59px;background:#f6f7f9;border-radius:13px;z-index:3;"></div>
<svg class="a" style="left:1741.80px;top:210.90px;z-index:3;" width="27.00" height="27.00" viewBox="0 0 16 16" fill="#1e293b"><path d="M6 .278a.768.768 0 0 1 .08.858 7.208 7.208 0 0 0-.878 3.46c0 4.021 3.278 7.277 7.318 7.277.527 0 1.040-.055 1.533-.16a.787.787 0 0 1 .81.316.733.733 0 0 1-.031.893A8.349 8.349 0 0 1 8.344 16C3.734 16 0 12.286 0 7.710 0 4.266 2.114 1.312 5.124.060A.752.752 0 0 1 6 .278z"/></svg>
<div class="a" style="left:1803px;top:209px;width:103px;height:30px;background:#f6f7f9;border-radius:8px;z-index:3;"></div>
<div class="t" style="left:1814.4px;top:215.35px;font-size:19.43px;line-height:19.43px;font-weight:700;color:#1e293b;transform:scaleX(0.9504);z-index:3;">v2.9.0</div>
<svg class="a" style="left:1870px;top:212px;z-index:3;" width="24" height="26" viewBox="0 0 24 26"><defs><linearGradient id="sp" x1="0" y1="0" x2="1" y2="1"><stop offset="0" stop-color="#ffd04a"/><stop offset="1" stop-color="#f7862a"/></linearGradient></defs><path d="M13.2 4.8Q14.2 11.8 21 12.9 14.2 14 13.2 21 12.2 14 5.4 12.9 12.2 11.8 13.2 4.8z" fill="url(#sp)"/><path d="M8 4.5Q8.4 6.8 10.5 7.2 8.4 7.6 8 9.9 7.6 7.6 5.5 7.2 7.6 6.8 8 4.5z" fill="url(#sp)"/><path d="M7 13.5Q7.5 16.4 10.3 17 7.5 17.6 7 20.5 6.5 17.6 3.7 17 6.5 16.4 7 13.5z" fill="url(#sp)"/></svg>
<div class="a" style="left:461px;top:334px;width:1445px;height:228px;background:#ffffff;border-radius:17px;box-shadow:0 0 0 1px rgba(17,24,39,0.045),0 2px 7px rgba(17,24,39,0.075);"></div>
<svg class="a" style="left:496.80px;top:372.50px;" width="27.20" height="27.20" viewBox="0 0 16 16" fill="#1e293b"><path d="M11.251.068a.5.5 0 0 1 .227.58L9.677 6.5H13a.5.5 0 0 1 .364.843l-8 8.5a.5.5 0 0 1-.842-.49L6.323 9.5H3a.5.5 0 0 1-.364-.843l8-8.5a.5.5 0 0 1 .615-.09z"/></svg>
<div class="t" style="left:536.0px;top:374.46px;font-size:27.57px;line-height:27.57px;font-weight:400;color:#1e293b;-webkit-text-stroke:0.77px #1e293b;">Schnellaktionen</div>
<div class="a" style="left:497px;top:426px;width:1373px;height:1px;background:#e5e7eb;"></div>
<div class="a" style="left:497px;top:457px;width:319px;height:69px;background:linear-gradient(135deg,#667eea 0%,#764ba2 100%);border-radius:16px;"></div>
<svg class="a" style="left:529.90px;top:482.20px;overflow:visible;" width="21.20" height="21.20" viewBox="0 0 16 16" fill="#ffffff"><path d="M8 15A7 7 0 1 1 8 1a7 7 0 0 1 0 14zm0 1A8 8 0 1 0 8 0a8 8 0 0 0 0 16z"/><path d="M8 4a.5.5 0 0 1 .5.5v3h3a.5.5 0 0 1 0 1h-3v3a.5.5 0 0 1-1 0v-3h-3a.5.5 0 0 1 0-1h3v-3A.5.5 0 0 1 8 4z"/></svg>
<div class="t" style="left:562.4px;top:482.24px;font-size:22.29px;line-height:22.29px;font-weight:400;color:#ffffff;transform:scaleX(0.9467);-webkit-text-stroke:0.62px #ffffff;">Neue Stunden erfassen</div>
<div class="a" style="left:834px;top:457px;width:220px;height:69px;background:#ffffff;border:1px solid #e2e5ea;border-radius:16px;box-sizing:border-box;"></div>
<svg class="a" style="left:868.10px;top:480.60px;" width="21.70" height="21.70" viewBox="0 0 16 16" fill="#1e293b"><path d="M1.92.506a.5.5 0 0 1 .434.14L3 1.293l.646-.647a.5.5 0 0 1 .708 0L5 1.293l.646-.647a.5.5 0 0 1 .708 0L7 1.293l.646-.647a.5.5 0 0 1 .708 0L9 1.293l.646-.647a.5.5 0 0 1 .708 0L11 1.293l.646-.647a.5.5 0 0 1 .708 0L13 1.293l.646-.647a.5.5 0 0 1 .801.13l.5 1A.5.5 0 0 1 15 2v12a.5.5 0 0 1-.053.224l-.5 1a.5.5 0 0 1-.8.13L13 14.707l-.646.647a.5.5 0 0 1-.708 0L11 14.707l-.646.647a.5.5 0 0 1-.708 0L9 14.707l-.646.647a.5.5 0 0 1-.708 0L7 14.707l-.646.647a.5.5 0 0 1-.708 0L5 14.707l-.646.647a.5.5 0 0 1-.708 0L3 14.707l-.646.647a.5.5 0 0 1-.801-.13l-.5-1A.5.5 0 0 1 1 14V2a.5.5 0 0 1 .053-.224l.5-1a.5.5 0 0 1 .367-.27zm.217 1.338L2 2.118v11.764l.137.274.51-.51a.5.5 0 0 1 .707 0l.646.647.646-.646a.5.5 0 0 1 .708 0l.646.646.646-.646a.5.5 0 0 1 .708 0l.646.646.646-.646a.5.5 0 0 1 .708 0l.646.646.646-.646a.5.5 0 0 1 .708 0l.646.646.646-.646a.5.5 0 0 1 .708 0l.509.509.137-.274V2.118l-.137-.274-.51.51a.5.5 0 0 1-.707 0L12 1.707l-.646.647a.5.5 0 0 1-.708 0L10 1.707l-.646.647a.5.5 0 0 1-.708 0L8 1.707l-.646.647a.5.5 0 0 1-.708 0L6 1.707l-.646.647a.5.5 0 0 1-.708 0L4 1.707l-.646.647a.5.5 0 0 1-.708 0l-.509-.51z"/><path d="M3 4.5a.5.5 0 0 1 .5-.5h6a.5.5 0 1 1 0 1h-6a.5.5 0 0 1-.5-.5zm0 2a.5.5 0 0 1 .5-.5h6a.5.5 0 1 1 0 1h-6a.5.5 0 0 1-.5-.5zm0 2a.5.5 0 0 1 .5-.5h6a.5.5 0 1 1 0 1h-6a.5.5 0 0 1-.5-.5zm0 2a.5.5 0 0 1 .5-.5h6a.5.5 0 0 1 0 1h-6a.5.5 0 0 1-.5-.5zm8-6a.5.5 0 0 1 .5-.5h1a.5.5 0 0 1 0 1h-1a.5.5 0 0 1-.5-.5zm0 2a.5.5 0 0 1 .5-.5h1a.5.5 0 0 1 0 1h-1a.5.5 0 0 1-.5-.5zm0 2a.5.5 0 0 1 .5-.5h1a.5.5 0 0 1 0 1h-1a.5.5 0 0 1-.5-.5zm0 2a.5.5 0 0 1 .5-.5h1a.5.5 0 0 1 0 1h-1a.5.5 0 0 1-.5-.5z"/></svg>
<div class="t" style="left:900.6px;top:482.24px;font-size:22.29px;line-height:22.29px;font-weight:400;color:#1e293b;transform:scaleX(0.9452);-webkit-text-stroke:0.62px #1e293b;">Rechnungen</div>
<div class="a" style="left:1072px;top:457px;width:284px;height:69px;background:#ffffff;border:1px solid #e2e5ea;border-radius:16px;box-sizing:border-box;"></div>
<svg class="a" style="left:1105.60px;top:480.50px;" width="22.00" height="22.00" viewBox="0 0 16 16" fill="#1e293b"><path d="M4 11H2v3h2v-3zm5-4H7v7h2V7zm5-5v12h-2V2h2zm-2-1a1 1 0 0 0-1 1v12a1 1 0 0 0 1 1h2a1 1 0 0 0 1-1V2a1 1 0 0 0-1-1h-2zM6 7a1 1 0 0 1 1-1h2a1 1 0 0 1 1 1v7a1 1 0 0 1-1 1H7a1 1 0 0 1-1-1V7zm-5 4a1 1 0 0 1 1-1h2a1 1 0 0 1 1 1v3a1 1 0 0 1-1 1H2a1 1 0 0 1-1-1v-3z"/></svg>
<div class="t" style="left:1139.2px;top:482.24px;font-size:22.29px;line-height:22.29px;font-weight:400;color:#1e293b;transform:scaleX(0.9458);-webkit-text-stroke:0.62px #1e293b;">Statistiken ansehen</div>
<div class="a" style="left:1374px;top:457px;width:258px;height:69px;background:#ffffff;border:1px solid #e2e5ea;border-radius:16px;box-sizing:border-box;"></div>
<svg class="a" style="left:1407.00px;top:480.00px;" width="22.50" height="22.50" viewBox="0 0 16 16" fill="#1e293b"><path d="M4.406 1.342A5.53 5.53 0 0 1 8 0c2.69 0 4.923 2 5.166 4.579C14.758 4.804 16 6.137 16 7.773 16 9.569 14.502 11 12.687 11H10a.5.5 0 0 1 0-1h2.688C13.979 10 15 8.988 15 7.773c0-1.216-1.02-2.228-2.313-2.228h-.5v-.5C12.188 2.825 10.328 1 8 1a4.53 4.53 0 0 0-2.941 1.1c-.757.652-1.153 1.438-1.153 2.055v.448l-.445.049C2.064 4.805 1 5.952 1 7.318 1 8.785 2.230 10 3.781 10H6a.5.5 0 0 1 0 1H3.781C1.708 11 0 9.366 0 7.318c0-1.763 1.266-3.223 2.942-3.593.143-.863.698-1.723 1.464-2.383z"/><path d="M7.646 15.854a.5.5 0 0 0 .708 0l3-3a.5.5 0 0 0-.708-.708L8.5 14.293V5.5a.5.5 0 0 0-1 0v8.793l-2.146-2.147a.5.5 0 0 0-.708.708l3 3z"/></svg>
<div class="t" style="left:1441.0px;top:482.24px;font-size:22.29px;line-height:22.29px;font-weight:400;color:#1e293b;transform:scaleX(0.9574);-webkit-text-stroke:0.62px #1e293b;">Backup erstellen</div>
<div class="a" style="left:461px;top:600px;width:460px;height:280px;background:#ffffff;border-radius:17px;box-shadow:0 0 0 1px rgba(17,24,39,0.045),0 2px 7px rgba(17,24,39,0.075);"></div>
<div class="a" style="left:953px;top:600px;width:461px;height:280px;background:#ffffff;border-radius:17px;box-shadow:0 0 0 1px rgba(17,24,39,0.045),0 2px 7px rgba(17,24,39,0.075);"></div>
<div class="a" style="left:1446px;top:600px;width:460px;height:280px;background:#ffffff;border-radius:17px;box-shadow:0 0 0 1px rgba(17,24,39,0.045),0 2px 7px rgba(17,24,39,0.075);"></div>
<div class="a" style="left:461px;top:912px;width:460px;height:279px;background:#ffffff;border-radius:17px;box-shadow:0 0 0 1px rgba(17,24,39,0.045),0 2px 7px rgba(17,24,39,0.075);"></div>
<div class="t" style="left:496.4px;top:662.86px;font-size:21.43px;line-height:21.43px;font-weight:400;color:#6b7280;transform:scaleX(1.0051);-webkit-text-stroke:0.3px #6b7280;">Stunden diesen Monat</div>
<div class="a" style="left:813px;top:636px;width:72px;height:72px;background:#e7f7f0;border-radius:16px;"></div>
<svg class="a" style="left:831.00px;top:655.00px;" width="36.00" height="36.00" viewBox="0 0 16 16" fill="#10b981"><path d="M8 3.5a.5.5 0 0 0-1 0V9a.5.5 0 0 0 .252.434l3.5 2a.5.5 0 0 0 .496-.868L8 8.71V3.5z"/><path d="M8 16A8 8 0 1 0 8 0a8 8 0 0 0 0 16zm7-8A7 7 0 1 1 1 8a7 7 0 0 1 14 0z"/></svg>
<div class="t" style="left:497.2px;top:749.89px;font-size:47.86px;line-height:47.86px;font-weight:700;color:#1e293b;transform:scaleX(1.0333);">55,0h</div>
<svg class="a" style="left:496.80px;top:820.70px;" width="17.90" height="17.90" viewBox="0 0 16 16" fill="#10b981"><path d="M8 15a.5.5 0 0 0 .5-.5V2.707l3.146 3.147a.5.5 0 0 0 .708-.708l-4-4a.5.5 0 0 0-.708 0l-4 4a.5.5 0 1 0 .708.708L7.5 2.707V14.5a.5.5 0 0 0 .5.5z"/></svg>
<div class="t" style="left:520.7px;top:820.66px;font-size:18.71px;line-height:18.71px;font-weight:400;color:#10b981;transform:scaleX(0.9535);">12,0h vs. letzten Monat</div>
<div class="t" style="left:988.7px;top:662.86px;font-size:21.43px;line-height:21.43px;font-weight:400;color:#6b7280;transform:scaleX(0.9958);-webkit-text-stroke:0.3px #6b7280;">Offene Rechnungen</div>
<div class="a" style="left:1306px;top:636px;width:72px;height:72px;background:#fef3e3;border-radius:16px;"></div>
<svg class="a" style="left:1324.00px;top:655.00px;" width="36.00" height="36.00" viewBox="0 0 16 16" fill="#f59e0b"><path d="M1.92.506a.5.5 0 0 1 .434.14L3 1.293l.646-.647a.5.5 0 0 1 .708 0L5 1.293l.646-.647a.5.5 0 0 1 .708 0L7 1.293l.646-.647a.5.5 0 0 1 .708 0L9 1.293l.646-.647a.5.5 0 0 1 .708 0L11 1.293l.646-.647a.5.5 0 0 1 .708 0L13 1.293l.646-.647a.5.5 0 0 1 .801.13l.5 1A.5.5 0 0 1 15 2v12a.5.5 0 0 1-.053.224l-.5 1a.5.5 0 0 1-.8.13L13 14.707l-.646.647a.5.5 0 0 1-.708 0L11 14.707l-.646.647a.5.5 0 0 1-.708 0L9 14.707l-.646.647a.5.5 0 0 1-.708 0L7 14.707l-.646.647a.5.5 0 0 1-.708 0L5 14.707l-.646.647a.5.5 0 0 1-.708 0L3 14.707l-.646.647a.5.5 0 0 1-.801-.13l-.5-1A.5.5 0 0 1 1 14V2a.5.5 0 0 1 .053-.224l.5-1a.5.5 0 0 1 .367-.27zm.217 1.338L2 2.118v11.764l.137.274.51-.51a.5.5 0 0 1 .707 0l.646.647.646-.646a.5.5 0 0 1 .708 0l.646.646.646-.646a.5.5 0 0 1 .708 0l.646.646.646-.646a.5.5 0 0 1 .708 0l.646.646.646-.646a.5.5 0 0 1 .708 0l.646.646.646-.646a.5.5 0 0 1 .708 0l.509.509.137-.274V2.118l-.137-.274-.51.51a.5.5 0 0 1-.707 0L12 1.707l-.646.647a.5.5 0 0 1-.708 0L10 1.707l-.646.647a.5.5 0 0 1-.708 0L8 1.707l-.646.647a.5.5 0 0 1-.708 0L6 1.707l-.646.647a.5.5 0 0 1-.708 0L4 1.707l-.646.647a.5.5 0 0 1-.708 0l-.509-.51z"/><path d="M3 4.5a.5.5 0 0 1 .5-.5h6a.5.5 0 1 1 0 1h-6a.5.5 0 0 1-.5-.5zm0 2a.5.5 0 0 1 .5-.5h6a.5.5 0 1 1 0 1h-6a.5.5 0 0 1-.5-.5zm0 2a.5.5 0 0 1 .5-.5h6a.5.5 0 1 1 0 1h-6a.5.5 0 0 1-.5-.5zm0 2a.5.5 0 0 1 .5-.5h6a.5.5 0 0 1 0 1h-6a.5.5 0 0 1-.5-.5zm8-6a.5.5 0 0 1 .5-.5h1a.5.5 0 0 1 0 1h-1a.5.5 0 0 1-.5-.5zm0 2a.5.5 0 0 1 .5-.5h1a.5.5 0 0 1 0 1h-1a.5.5 0 0 1-.5-.5zm0 2a.5.5 0 0 1 .5-.5h1a.5.5 0 0 1 0 1h-1a.5.5 0 0 1-.5-.5zm0 2a.5.5 0 0 1 .5-.5h1a.5.5 0 0 1 0 1h-1a.5.5 0 0 1-.5-.5z"/></svg>
<div class="t" style="left:990.9px;top:749.89px;font-size:47.86px;line-height:47.86px;font-weight:700;color:#1e293b;transform:scaleX(1.0183);">1.527,00 €</div>
<svg class="a" style="left:960px;top:740px;" width="220" height="60" viewBox="0 0 220 60"><g transform="translate(-960,-740)"><path d="M989 775C1040 772 1110 770 1152 774" fill="none" stroke="#e8e8e8" stroke-width="14.7" stroke-linecap="round"/><path d="M1034 762C1062 757 1100 759 1113 769C1107 781 1060 781 1045 778" fill="none" stroke="#e8e8e8" stroke-width="15.5" stroke-linecap="round"/></g></svg>
<div class="t" style="left:988.2px;top:820.66px;font-size:18.71px;line-height:18.71px;font-weight:400;color:#10b981;transform:scaleX(0.9574);">18 Einträge</div>
<div class="t" style="left:1482.2px;top:662.86px;font-size:21.43px;line-height:21.43px;font-weight:400;color:#6b7280;transform:scaleX(0.9882);-webkit-text-stroke:0.3px #6b7280;">Aktive Schulen</div>
<div class="a" style="left:1798px;top:636px;width:72px;height:72px;background:#e8f0fe;border-radius:16px;"></div>
<svg class="a" style="left:1816.00px;top:655.00px;" width="36.00" height="36.00" viewBox="0 0 16 16" fill="#3b82f6"><path d="M4 2.5a.5.5 0 0 1 .5-.5h1a.5.5 0 0 1 .5.5v1a.5.5 0 0 1-.5.5h-1a.5.5 0 0 1-.5-.5v-1Zm3 0a.5.5 0 0 1 .5-.5h1a.5.5 0 0 1 .5.5v1a.5.5 0 0 1-.5.5h-1a.5.5 0 0 1-.5-.5v-1Zm3.5-.5a.5.5 0 0 0-.5.5v1a.5.5 0 0 0 .5.5h1a.5.5 0 0 0 .5-.5v-1a.5.5 0 0 0-.5-.5h-1ZM4 5.5a.5.5 0 0 1 .5-.5h1a.5.5 0 0 1 .5.5v1a.5.5 0 0 1-.5.5h-1a.5.5 0 0 1-.5-.5v-1ZM7.5 5a.5.5 0 0 0-.5.5v1a.5.5 0 0 0 .5.5h1a.5.5 0 0 0 .5-.5v-1a.5.5 0 0 0-.5-.5h-1Zm2.5.5a.5.5 0 0 1 .5-.5h1a.5.5 0 0 1 .5.5v1a.5.5 0 0 1-.5.5h-1a.5.5 0 0 1-.5-.5v-1ZM4.5 8a.5.5 0 0 0-.5.5v1a.5.5 0 0 0 .5.5h1a.5.5 0 0 0 .5-.5v-1a.5.5 0 0 0-.5-.5h-1Zm2.5.5a.5.5 0 0 1 .5-.5h1a.5.5 0 0 1 .5.5v1a.5.5 0 0 1-.5.5h-1a.5.5 0 0 1-.5-.5v-1Zm3.5-.5a.5.5 0 0 0-.5.5v1a.5.5 0 0 0 .5.5h1a.5.5 0 0 0 .5-.5v-1a.5.5 0 0 0-.5-.5h-1Z"/><path d="M2 1a1 1 0 0 1 1-1h10a1 1 0 0 1 1 1v14a1 1 0 0 1-1 1H3a1 1 0 0 1-1-1V1Zm11 0H3v14h3v-2.5a.5.5 0 0 1 .5-.5h3a.5.5 0 0 1 .5.5V15h3V1Z"/></svg>
<div class="t" style="left:1480.1px;top:749.89px;font-size:47.86px;line-height:47.86px;font-weight:700;color:#1e293b;transform:scaleX(1.1101);">2</div>
<div class="t" style="left:1481.3px;top:820.66px;font-size:18.71px;line-height:18.71px;font-weight:400;color:#10b981;transform:scaleX(0.9176);">3 Kurse</div>
<div class="t" style="left:497.1px;top:974.16px;font-size:21.43px;line-height:21.43px;font-weight:400;color:#6b7280;-webkit-text-stroke:0.3px #6b7280;">Abgerechnet 2026</div>
<div class="a" style="left:813px;top:948px;width:72px;height:72px;background:#eef0fd;border-radius:16px;"></div>
<svg class="a" style="left:831.60px;top:966.00px;" width="36.00" height="36.00" viewBox="0 0 16 16" fill="#667eea"><path d="M11 15a4 4 0 1 0 0-8 4 4 0 0 0 0 8zm5-4a5 5 0 1 1-10 0 5 5 0 0 1 10 0z"/><path d="M9.438 11.944c.047.596.518 1.06 1.363 1.116v.44h.375v-.443c.875-.061 1.386-.529 1.386-1.207 0-.618-.39-.936-1.090-1.1l-.296-.07v-1.2c.376.043.614.248.671.532h.658c-.047-.575-.54-1.024-1.329-1.073V8.5h-.375v.45c-.747.073-1.255.522-1.255 1.158 0 .562.378.92 1.007 1.066l.248.061v1.272c-.384-.058-.639-.27-.696-.563h-.668zm1.360-1.354c-.369-.085-.569-.26-.569-.522 0-.294.216-.514.572-.578v1.1h-.003zm.432.746c.449.104.655.272.655.569 0 .339-.257.571-.709.614v-1.195l.054.012z"/><path d="M1 0a1 1 0 0 0-1 1v8a1 1 0 0 0 1 1h4.083c.058-.344.145-.678.258-1H3a2 2 0 0 0-2-2V3a2 2 0 0 0 2-2h10a2 2 0 0 0 2 2v3.528c.38.34.717.728 1 1.154V1a1 1 0 0 0-1-1H1z"/><path d="M9.998 5.083 10 5a2 2 0 1 0-3.132 1.65 5.982 5.982 0 0 1 3.130-1.567z"/></svg>
<div class="t" style="left:496.3px;top:1061.99px;font-size:47.86px;line-height:47.86px;font-weight:700;color:#1e293b;transform:scaleX(1.0311);">2.497,00 €</div>
<svg class="a" style="left:470px;top:1040px;" width="230" height="70" viewBox="0 0 230 70"><g transform="translate(-470,-1040)"><path d="M491 1062L585 1062C605 1063 615 1069 632 1075" fill="none" stroke="#e8e8e8" stroke-width="15.4" stroke-linecap="round"/><path d="M522 1087C535 1079 560 1077 600 1077C640 1077 660 1083 675 1084" fill="none" stroke="#e8e8e8" stroke-width="15" stroke-linecap="round"/></g></svg>
<svg class="a" style="left:497.00px;top:1131.50px;" width="18.00" height="18.00" viewBox="0 0 16 16" fill="#10b981"><path d="M8 15A7 7 0 1 1 8 1a7 7 0 0 1 0 14zm0 1A8 8 0 1 0 8 0a8 8 0 0 0 0 16z"/><path d="M10.97 4.97a.235.235 0 0 0-.02.022L7.477 9.417 5.384 7.323a.75.75 0 0 0-1.06 1.060L6.970 11.030a.75.75 0 0 0 1.079-.02l3.992-4.99a.75.75 0 0 0-1.071-1.050z"/></svg>
<div class="t" style="left:519.6px;top:1131.58px;font-size:18.57px;line-height:18.57px;font-weight:400;color:#10b981;transform:scaleX(0.9623);">Bereits berechnet</div>
<div class="a" style="left:461px;top:1241px;width:951px;height:394px;background:#ffffff;border-radius:17px;box-shadow:0 0 0 1px rgba(17,24,39,0.045),0 2px 7px rgba(17,24,39,0.075);"></div>
<svg class="a" style="left:497.00px;top:1280.90px;" width="27.70" height="27.70" viewBox="0 0 16 16" fill="#1e293b"><path d="M4 11H2v3h2v-3zm5-4H7v7h2V7zm5-5v12h-2V2h2zm-2-1a1 1 0 0 0-1 1v12a1 1 0 0 0 1 1h2a1 1 0 0 0 1-1V2a1 1 0 0 0-1-1h-2zM6 7a1 1 0 0 1 1-1h2a1 1 0 0 1 1 1v7a1 1 0 0 1-1 1H7a1 1 0 0 1-1-1V7zm-5 4a1 1 0 0 1 1-1h2a1 1 0 0 1 1 1v3a1 1 0 0 1-1 1H2a1 1 0 0 1-1-1v-3z"/></svg>
<div class="t" style="left:535.5px;top:1280.78px;font-size:27.43px;line-height:27.43px;font-weight:400;color:#1e293b;transform:scaleX(1.0255);-webkit-text-stroke:0.77px #1e293b;">Stunden pro Monat</div>
<div class="a" style="left:497px;top:1334px;width:879px;height:1px;background:#e5e7eb;"></div>
<div class="a" style="left:535px;top:1556px;width:840px;height:1px;background:#ececec;"></div>
<div class="t" style="left:511.0px;top:1546.16px;font-size:18.00px;line-height:18.00px;font-weight:400;color:#6b7280;">0h</div>
<div class="a" style="left:535px;top:1527px;width:840px;height:1px;background:#ececec;"></div>
<div class="t" style="left:501.0px;top:1516.83px;font-size:18.00px;line-height:18.00px;font-weight:400;color:#6b7280;">10h</div>
<div class="a" style="left:535px;top:1497px;width:840px;height:1px;background:#ececec;"></div>
<div class="t" style="left:501.0px;top:1487.50px;font-size:18.00px;line-height:18.00px;font-weight:400;color:#6b7280;">20h</div>
<div class="a" style="left:535px;top:1468px;width:840px;height:1px;background:#ececec;"></div>
<div class="t" style="left:501.0px;top:1458.17px;font-size:18.00px;line-height:18.00px;font-weight:400;color:#6b7280;">30h</div>
<div class="a" style="left:535px;top:1439px;width:840px;height:1px;background:#ececec;"></div>
<div class="t" style="left:501.0px;top:1428.84px;font-size:18.00px;line-height:18.00px;font-weight:400;color:#6b7280;">40h</div>
<div class="a" style="left:535px;top:1409px;width:840px;height:1px;background:#ececec;"></div>
<div class="t" style="left:501.0px;top:1399.51px;font-size:18.00px;line-height:18.00px;font-weight:400;color:#6b7280;">50h</div>
<div class="a" style="left:535px;top:1380px;width:840px;height:1px;background:#ececec;"></div>
<div class="t" style="left:501.0px;top:1370.18px;font-size:18.00px;line-height:18.00px;font-weight:400;color:#6b7280;">60h</div>
<div class="a" style="left:586.3px;top:1555px;width:61px;height:1px;background:rgba(102,126,234,0.55);"></div>
<div class="t" style="left:602.4px;top:1574.14px;font-size:18.50px;line-height:18.50px;font-weight:400;color:#6b7280;">Okt</div>
<div class="a" style="left:724.0px;top:1555px;width:61px;height:1px;background:rgba(102,126,234,0.55);"></div>
<div class="t" style="left:738.1px;top:1574.14px;font-size:18.50px;line-height:18.50px;font-weight:400;color:#6b7280;">Nov</div>
<div class="a" style="left:861.7px;top:1555px;width:61px;height:1px;background:rgba(102,126,234,0.55);"></div>
<div class="t" style="left:875.8px;top:1574.14px;font-size:18.50px;line-height:18.50px;font-weight:400;color:#6b7280;">Dez</div>
<div class="a" style="left:999.5px;top:1519.3px;width:61px;height:36.7px;background:rgba(102,126,234,0.8);border-radius:8px 8px 0 0;"></div>
<div class="t" style="left:1015.1px;top:1574.14px;font-size:18.50px;line-height:18.50px;font-weight:400;color:#6b7280;">Jan</div>
<div class="a" style="left:1137.1px;top:1429.9px;width:61px;height:126.1px;background:rgba(102,126,234,0.8);border-radius:8px 8px 0 0;"></div>
<div class="t" style="left:1151.7px;top:1574.14px;font-size:18.50px;line-height:18.50px;font-weight:400;color:#6b7280;">Feb</div>
<div class="a" style="left:1274.8px;top:1394.7px;width:61px;height:161.3px;background:rgba(102,126,234,0.8);border-radius:8px 8px 0 0;"></div>
<div class="t" style="left:1289.4px;top:1574.14px;font-size:18.50px;line-height:18.50px;font-weight:400;color:#6b7280;">Mär</div>
<div class="a" style="left:1450px;top:1241px;width:456px;height:559px;background:#ffffff;border-radius:17px;box-shadow:0 0 0 1px rgba(17,24,39,0.045),0 2px 7px rgba(17,24,39,0.075);"></div>
<svg class="a" style="left:1485.80px;top:1280.90px;" width="27.20" height="27.20" viewBox="0 0 16 16" fill="#1e293b"><path d="M8.515 1.019A7 7 0 0 0 8 1V0a8 8 0 0 1 .589.022l-.074.997zm2.004.45a7.003 7.003 0 0 0-.985-.299l.219-.976c.383.086.760.2 1.126.342l-.36.933zm1.37.71a7.01 7.01 0 0 0-.439-.27l.493-.87a8.025 8.025 0 0 1 .979.654l-.615.789a6.996 6.996 0 0 0-.418-.302zm1.834 1.79a6.99 6.99 0 0 0-.653-.796l.724-.69c.27.285.52.59.747.91l-.818.576zm.744 1.352a7.08 7.08 0 0 0-.214-.468l.893-.45a7.976 7.976 0 0 1 .45 1.088l-.95.313a7.023 7.023 0 0 0-.179-.483zm.53 2.507a6.991 6.991 0 0 0-.1-1.025l.985-.17c.067.386.106.778.116 1.17l-1 .025zm-.131 1.538c.033-.17.06-.339.081-.51l.993.123a7.957 7.957 0 0 1-.23 1.155l-.964-.267c.046-.165.086-.332.12-.501zm-.952 2.379c.184-.29.346-.594.486-.908l.914.405c-.16.36-.345.706-.555 1.038l-.845-.535zm-.964 1.205c.122-.122.239-.248.35-.378l.758.653a8.073 8.073 0 0 1-.401.432l-.707-.707z"/><path d="M8 1a7 7 0 1 0 4.95 11.95l.707.707A8.001 8.001 0 1 1 8 0v1z"/><path d="M7.5 3a.5.5 0 0 1 .5.5v5.21l3.248 1.856a.5.5 0 0 1-.496.868l-3.5-2A.5.5 0 0 1 7 9V3.5a.5.5 0 0 1 .5-.5z"/></svg>
<div class="t" style="left:1524.2px;top:1281.23px;font-size:26.43px;line-height:26.43px;font-weight:400;color:#1e293b;transform:scaleX(1.0334);-webkit-text-stroke:0.74px #1e293b;">Letzte Einträge</div>
<div class="a" style="left:1486px;top:1334px;width:384px;height:1px;background:#e5e7eb;"></div>
<div class="t" style="left:1503.1px;top:1390.08px;font-size:22.00px;line-height:22.00px;font-weight:400;color:#1e293b;transform:scaleX(0.9692);-webkit-text-stroke:0.62px #1e293b;">Deutschkurs A2</div>
<div class="t" style="left:1503.7px;top:1438.12px;font-size:18.29px;line-height:18.29px;font-weight:400;color:#6b7280;transform:scaleX(0.9755);">Sprachschule Mitte</div>
<div class="t" style="left:1503.6px;top:1473.12px;font-size:18.29px;line-height:18.29px;font-weight:400;color:#9ca3af;transform:scaleX(0.9514);">25.3.2026 • 2,5h</div>
<svg class="a" style="left:1822px;top:1389.0px;" width="24" height="32" viewBox="0 0 24 32"><path d="M3.3 4.9H19.8C19.8 10 15 13 11.5 15.6 8 13 3.3 10 3.3 4.9z" fill="#a9dafd"/><path d="M3.3 27.8C3.3 21 8 18 11.5 16.3 15 18 19.8 21 19.8 27.8z" fill="#a3d5fd"/><path d="M4.4 6.3H18.9C18.7 10.8 14.5 12.5 12.2 13.6V25H10.9V13.6C8.6 12.5 4.6 10.8 4.4 6.3z" fill="#f2b443"/><path d="M5.3 27.8C5.8 24.6 9.6 23.6 11 22.6H12.2C13.6 23.6 17.6 24.6 18.2 27.8z" fill="#f4b85a"/><rect x="2.2" y="2.9" width="18.6" height="2.1" rx="1" fill="#8d9093"/><rect x="2.2" y="27.8" width="18.6" height="2.1" rx="1" fill="#8d9093"/></svg>
<div class="a" style="left:1486px;top:1513px;width:384px;height:1px;background:#e5e7eb;"></div>
<div class="t" style="left:1503.1px;top:1539.38px;font-size:22.00px;line-height:22.00px;font-weight:400;color:#1e293b;transform:scaleX(0.9924);-webkit-text-stroke:0.62px #1e293b;">Mathematik 8a</div>
<div class="t" style="left:1503.6px;top:1587.42px;font-size:18.29px;line-height:18.29px;font-weight:400;color:#6b7280;transform:scaleX(0.9755);">Gymnasium Musterstadt</div>
<div class="t" style="left:1503.6px;top:1622.42px;font-size:18.29px;line-height:18.29px;font-weight:400;color:#9ca3af;transform:scaleX(0.9514);">24.3.2026 • 2,5h</div>
<svg class="a" style="left:1822px;top:1538.3px;" width="24" height="32" viewBox="0 0 24 32"><path d="M3.3 4.9H19.8C19.8 10 15 13 11.5 15.6 8 13 3.3 10 3.3 4.9z" fill="#a9dafd"/><path d="M3.3 27.8C3.3 21 8 18 11.5 16.3 15 18 19.8 21 19.8 27.8z" fill="#a3d5fd"/><path d="M4.4 6.3H18.9C18.7 10.8 14.5 12.5 12.2 13.6V25H10.9V13.6C8.6 12.5 4.6 10.8 4.4 6.3z" fill="#f2b443"/><path d="M5.3 27.8C5.8 24.6 9.6 23.6 11 22.6H12.2C13.6 23.6 17.6 24.6 18.2 27.8z" fill="#f4b85a"/><rect x="2.2" y="2.9" width="18.6" height="2.1" rx="1" fill="#8d9093"/><rect x="2.2" y="27.8" width="18.6" height="2.1" rx="1" fill="#8d9093"/></svg>
<div class="a" style="left:1486px;top:1663px;width:384px;height:1px;background:#e5e7eb;"></div>
<div class="t" style="left:1503.1px;top:1688.68px;font-size:22.00px;line-height:22.00px;font-weight:400;color:#1e293b;transform:scaleX(0.9623);-webkit-text-stroke:0.62px #1e293b;">Deutsch 7b</div>
<div class="t" style="left:1503.6px;top:1736.72px;font-size:18.29px;line-height:18.29px;font-weight:400;color:#6b7280;transform:scaleX(0.9755);">Gymnasium Musterstadt</div>
<div class="t" style="left:1503.6px;top:1771.72px;font-size:18.29px;line-height:18.29px;font-weight:400;color:#9ca3af;transform:scaleX(0.9514);">23.3.2026 • 2,5h</div>
<svg class="a" style="left:1822px;top:1687.6px;" width="24" height="32" viewBox="0 0 24 32"><path d="M3.3 4.9H19.8C19.8 10 15 13 11.5 15.6 8 13 3.3 10 3.3 4.9z" fill="#a9dafd"/><path d="M3.3 27.8C3.3 21 8 18 11.5 16.3 15 18 19.8 21 19.8 27.8z" fill="#a3d5fd"/><path d="M4.4 6.3H18.9C18.7 10.8 14.5 12.5 12.2 13.6V25H10.9V13.6C8.6 12.5 4.6 10.8 4.4 6.3z" fill="#f2b443"/><path d="M5.3 27.8C5.8 24.6 9.6 23.6 11 22.6H12.2C13.6 23.6 17.6 24.6 18.2 27.8z" fill="#f4b85a"/><rect x="2.2" y="2.9" width="18.6" height="2.1" rx="1" fill="#8d9093"/><rect x="2.2" y="27.8" width="18.6" height="2.1" rx="1" fill="#8d9093"/></svg>
<svg class="a" style="left:1500px;top:1420px;" width="140" height="50" viewBox="0 0 140 50"><path d="M33 22L113 26" fill="none" stroke="#e8e8e8" stroke-width="16.5" stroke-linecap="round"/></svg>
<svg class="a" style="left:1570px;top:1570px;" width="110" height="50" viewBox="0 0 110 50"><path d="M22 25.5L81 26.5" fill="none" stroke="#e8e8e8" stroke-width="17" stroke-linecap="round"/></svg>
</body></html>
